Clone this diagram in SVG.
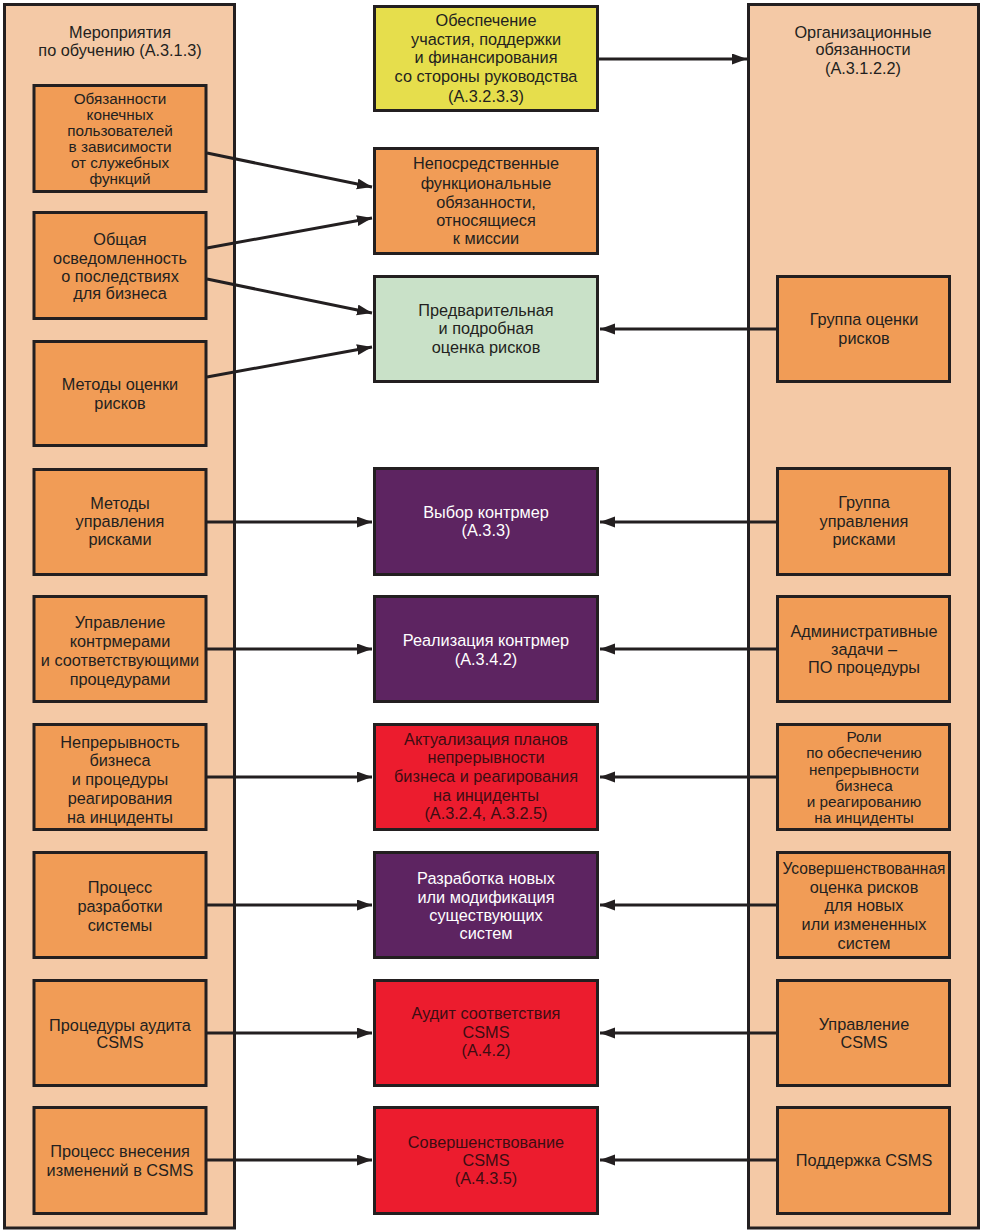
<svg xmlns="http://www.w3.org/2000/svg" width="983" height="1231" viewBox="0 0 983 1231">
<style>
.panel{fill:#f4c9a6;stroke:#231f20;stroke-width:3}
.box{stroke:#231f20;stroke-width:3}
.org{fill:#f19c56}
.yel{fill:#e6de4c}
.grn{fill:#c9e1c8}
.pur{fill:#5d2461}
.red{fill:#ec1c2e}
text{font-family:"Liberation Sans",Arial,sans-serif;font-size:16.3px;text-anchor:middle;fill:#231f20}
text.tight{font-size:15.3px}
.w{fill:#ffffff}
.dr{fill:#3d0d12}
.conn line{stroke:#231f20;stroke-width:3;marker-end:url(#arr)}
</style>
<defs>
<marker id="arr" markerUnits="userSpaceOnUse" markerWidth="16" markerHeight="12" refX="15" refY="5.5" orient="auto">
<path d="M0,0 L15,5.5 L0,11 z" fill="#231f20"/>
</marker>
</defs>
<rect width="983" height="1231" fill="#ffffff"/>

<g id="panel-left">
<rect class="panel" x="4.5" y="4.5" width="230" height="1223.5"/>
<text><tspan x="120" y="37.5">Мероприятия</tspan><tspan x="120" y="55.5">по обучению (А.3.1.3)</tspan></text>
</g>
<g id="panel-right">
<rect class="panel" x="748.5" y="4.5" width="230" height="1223.5"/>
<text><tspan x="863" y="37.5">Организационные</tspan><tspan x="863" y="54.5">обязанности</tspan><tspan x="863" y="73.5">(А.3.1.2.2)</tspan></text>
</g>

<g id="L1"><rect class="box org" x="34" y="85.5" width="172" height="106"/>
<text class="tight"><tspan x="120" y="104">Обязанности</tspan><tspan x="120" y="120">конечных</tspan><tspan x="120" y="136">пользователей</tspan><tspan x="120" y="152">в зависимости</tspan><tspan x="120" y="168">от служебных</tspan><tspan x="120" y="184">функций</tspan></text></g>
<g id="L2"><rect class="box org" x="34" y="212.5" width="172" height="106"/>
<text><tspan x="120" y="244.5">Общая</tspan><tspan x="120" y="263.5">осведомленность</tspan><tspan x="120" y="281.5">о последствиях</tspan><tspan x="120" y="298.5">для бизнеса</tspan></text></g>
<g id="L3"><rect class="box org" x="34" y="341.5" width="172" height="104"/>
<text><tspan x="120" y="389.5">Методы оценки</tspan><tspan x="120" y="408.5">рисков</tspan></text></g>
<g id="L4"><rect class="box org" x="34" y="469.5" width="172" height="105"/>
<text><tspan x="120" y="508.5">Методы</tspan><tspan x="120" y="526.5">управления</tspan><tspan x="120" y="544.5">рисками</tspan></text></g>
<g id="L5"><rect class="box org" x="34" y="596.5" width="172" height="105"/>
<text><tspan x="120" y="627.5">Управление</tspan><tspan x="120" y="646.5">контрмерами</tspan><tspan x="120" y="665.5">и соответствующими</tspan><tspan x="120" y="684.5">процедурами</tspan></text></g>
<g id="L6"><rect class="box org" x="34" y="724.5" width="172" height="105"/>
<text><tspan x="120" y="747.5">Непрерывность</tspan><tspan x="120" y="765.5">бизнеса</tspan><tspan x="120" y="784.5">и процедуры</tspan><tspan x="120" y="803.5">реагирования</tspan><tspan x="120" y="822.5">на инциденты</tspan></text></g>
<g id="L7"><rect class="box org" x="34" y="852.5" width="172" height="105"/>
<text><tspan x="120" y="892.5">Процесс</tspan><tspan x="120" y="911.5">разработки</tspan><tspan x="120" y="930.5">системы</tspan></text></g>
<g id="L8"><rect class="box org" x="34" y="980.5" width="172" height="105"/>
<text><tspan x="120" y="1030.5">Процедуры аудита</tspan><tspan x="120" y="1047.5">CSMS</tspan></text></g>
<g id="L9"><rect class="box org" x="34" y="1107.5" width="172" height="106"/>
<text><tspan x="120" y="1156.5">Процесс внесения</tspan><tspan x="120" y="1175.5">изменений в CSMS</tspan></text></g>

<g id="C1"><rect class="box yel" x="374.5" y="6.5" width="223" height="104"/>
<text><tspan x="486" y="25.5">Обеспечение</tspan><tspan x="486" y="44.5">участия, поддержки</tspan><tspan x="486" y="62.5">и финансирования</tspan><tspan x="486" y="81.5">со стороны руководства</tspan><tspan x="486" y="101.5">(А.3.2.3.3)</tspan></text></g>
<g id="C2"><rect class="box org" x="374.5" y="148.5" width="223" height="105"/>
<text><tspan x="486" y="168.5">Непосредственные</tspan><tspan x="486" y="188.5">функциональные</tspan><tspan x="486" y="207.5">обязанности,</tspan><tspan x="486" y="225.5">относящиеся</tspan><tspan x="486" y="243.5">к миссии</tspan></text></g>
<g id="C3"><rect class="box grn" x="374.5" y="276.5" width="223" height="105"/>
<text><tspan x="486" y="315.5">Предварительная</tspan><tspan x="486" y="333.5">и подробная</tspan><tspan x="486" y="352.5">оценка рисков</tspan></text></g>
<g id="C4"><rect class="box pur" x="374.5" y="468.5" width="223" height="106"/>
<text class="w"><tspan x="486" y="517.5">Выбор контрмер</tspan><tspan x="486" y="535.5">(А.3.3)</tspan></text></g>
<g id="C5"><rect class="box pur" x="374.5" y="596.5" width="223" height="105"/>
<text class="w"><tspan x="486" y="645.5">Реализация контрмер</tspan><tspan x="486" y="664.5">(А.3.4.2)</tspan></text></g>
<g id="C6"><rect class="box red" x="374.5" y="724.5" width="223" height="105"/>
<text class="dr"><tspan x="486" y="744.5">Актуализация планов</tspan><tspan x="486" y="762.5">непрерывности</tspan><tspan x="486" y="781.5">бизнеса и реагирования</tspan><tspan x="486" y="800.5">на инциденты</tspan><tspan x="486" y="818.5">(А.3.2.4, А.3.2.5)</tspan></text></g>
<g id="C7"><rect class="box pur" x="374.5" y="852.5" width="223" height="105"/>
<text class="w"><tspan x="486" y="883.5">Разработка новых</tspan><tspan x="486" y="902.5">или модификация</tspan><tspan x="486" y="920.5">существующих</tspan><tspan x="486" y="938.5">систем</tspan></text></g>
<g id="C8"><rect class="box red" x="374.5" y="980.5" width="223" height="105"/>
<text class="dr"><tspan x="486" y="1018.5">Аудит соответствия</tspan><tspan x="486" y="1037.5">CSMS</tspan><tspan x="486" y="1055.5">(А.4.2)</tspan></text></g>
<g id="C9"><rect class="box red" x="374.5" y="1107.5" width="223" height="106"/>
<text class="dr"><tspan x="486" y="1147.5">Совершенствование</tspan><tspan x="486" y="1165.5">CSMS</tspan><tspan x="486" y="1183.5">(А.4.3.5)</tspan></text></g>

<g id="R1"><rect class="box org" x="777.5" y="276.5" width="172" height="105"/>
<text><tspan x="864" y="324.5">Группа оценки</tspan><tspan x="864" y="343.5">рисков</tspan></text></g>
<g id="R2"><rect class="box org" x="777.5" y="468.5" width="172" height="106"/>
<text><tspan x="864" y="507.5">Группа</tspan><tspan x="864" y="526.5">управления</tspan><tspan x="864" y="544.5">рисками</tspan></text></g>
<g id="R3"><rect class="box org" x="777.5" y="596.5" width="172" height="105"/>
<text><tspan x="864" y="636.5">Административные</tspan><tspan x="864" y="654.5">задачи –</tspan><tspan x="864" y="672.5">ПО процедуры</tspan></text></g>
<g id="R4"><rect class="box org" x="777.5" y="724.5" width="172" height="105"/>
<text class="tight"><tspan x="864" y="742">Роли</tspan><tspan x="864" y="758">по обеспечению</tspan><tspan x="864" y="774.5">непрерывности</tspan><tspan x="864" y="790.5">бизнеса</tspan><tspan x="864" y="807">и реагированию</tspan><tspan x="864" y="823">на инциденты</tspan></text></g>
<g id="R5"><rect class="box org" x="777.5" y="852.5" width="172" height="105"/>
<text><tspan x="864" y="873.5" textLength="163" lengthAdjust="spacingAndGlyphs">Усовершенствованная</tspan><tspan x="864" y="892.5">оценка рисков</tspan><tspan x="864" y="910.5">для новых</tspan><tspan x="864" y="929.5">или измененных</tspan><tspan x="864" y="948.5">систем</tspan></text></g>
<g id="R6"><rect class="box org" x="777.5" y="980.5" width="172" height="105"/>
<text><tspan x="864" y="1029.5">Управление</tspan><tspan x="864" y="1047.5">CSMS</tspan></text></g>
<g id="R7"><rect class="box org" x="777.5" y="1107.5" width="172" height="106"/>
<text><tspan x="864" y="1165.5">Поддержка CSMS</tspan></text></g>

<g id="connectors" class="conn">
<line x1="207" y1="153" x2="372" y2="187"/>
<line x1="207" y1="248" x2="372" y2="218"/>
<line x1="207" y1="279" x2="372" y2="313"/>
<line x1="207" y1="377" x2="372" y2="347"/>
<line x1="207" y1="522" x2="372" y2="522"/>
<line x1="207" y1="649" x2="372" y2="649"/>
<line x1="207" y1="777" x2="372" y2="777"/>
<line x1="207" y1="905" x2="372" y2="905"/>
<line x1="207" y1="1033" x2="372" y2="1033"/>
<line x1="207" y1="1160" x2="372" y2="1160"/>
<line x1="599" y1="59" x2="747" y2="59"/>
<line x1="776" y1="329" x2="600" y2="329"/>
<line x1="776" y1="522" x2="600" y2="522"/>
<line x1="776" y1="649" x2="600" y2="649"/>
<line x1="776" y1="777" x2="600" y2="777"/>
<line x1="776" y1="905" x2="600" y2="905"/>
<line x1="776" y1="1033" x2="600" y2="1033"/>
<line x1="776" y1="1160" x2="600" y2="1160"/>
</g>
</svg>
